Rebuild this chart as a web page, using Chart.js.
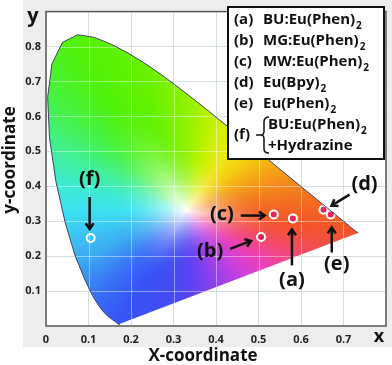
<!DOCTYPE html>
<html><head><meta charset="utf-8">
<script src="https://cdn.jsdelivr.net/npm/chart.js@4.4.1/dist/chart.umd.min.js"></script>
<style>html,body{margin:0;padding:0;background:#fff}#wrap{width:392px;height:365px;position:relative}</style>
</head><body><div id="wrap"><canvas id="c" width="392" height="365"></canvas></div>
<script>
// ---- data ----
const sampleTags  = ['(a)', '(b)', '(c)', '(d)', '(e)', '(f)'];
const sampleNames = ['BU:Eu(Phen)', 'MG:Eu(Phen)', 'MW:Eu(Phen)', 'Eu(Bpy)', 'Eu(Phen)', 'BU:Eu(Phen)'];
const sampleX = [0.581, 0.506, 0.536, 0.653, 0.670, 0.105];
const sampleY = [0.308, 0.255, 0.319, 0.333, 0.319, 0.252];
// CIE 1931 spectral locus (380-700 nm)
const locusX = [0.1741,0.1740,0.1738,0.1736,0.1733,0.1730,0.1726,0.1721,0.1714,0.1703,0.1689,0.1669,0.1644,0.1611,0.1566,0.1510,0.1440,0.1355,0.1241,0.1096,0.0913,0.0687,0.0454,0.0235,0.0082,0.0039,0.0139,0.0389,0.0743,0.1142,0.1547,0.1929,0.2296,0.2658,0.3016,0.3373,0.3731,0.4087,0.4441,0.4788,0.5125,0.5448,0.5752,0.6029,0.6270,0.6482,0.6658,0.6801,0.6915,0.7006,0.7079,0.7140,0.7190,0.7230,0.7260,0.7283,0.7300,0.7311,0.7320,0.7327,0.7334,0.7344,0.7347];
const locusY = [0.0050,0.0050,0.0049,0.0049,0.0048,0.0048,0.0048,0.0048,0.0051,0.0058,0.0069,0.0086,0.0109,0.0138,0.0177,0.0227,0.0297,0.0399,0.0578,0.0868,0.1327,0.2007,0.2950,0.4127,0.5384,0.6548,0.7502,0.8120,0.8338,0.8262,0.8059,0.7816,0.7543,0.7243,0.6923,0.6589,0.6245,0.5896,0.5547,0.5202,0.4866,0.4544,0.4242,0.3965,0.3725,0.3514,0.3340,0.3197,0.3083,0.2993,0.2920,0.2859,0.2809,0.2770,0.2740,0.2717,0.2700,0.2689,0.2680,0.2673,0.2666,0.2656,0.2653];
const xTicks = [0, 0.1, 0.2, 0.3, 0.4, 0.5, 0.6, 0.7];
const yTicks = [0.1, 0.2, 0.3, 0.4, 0.5, 0.6, 0.7, 0.8];

// ---- styling / layout helpers ----
const whitePt = [0.33, 0.33];
const hueStops = [ // angle(deg) around white point -> colour
  [-180,[60,226,242]],[-150,[60,170,242]],[-130,[56,110,245]],[-116,[54,84,246]],[-97,[70,74,242]],
  [-85,[98,66,240]],[-70,[150,64,236]],[-55,[200,64,222]],[-40,[236,64,182]],[-28,[242,72,128]],
  [-17,[242,80,72]],[-8,[242,86,40]],[0,[243,98,36]],[15,[243,130,30]],[30,[245,164,22]],[45,[245,204,16]],
  [60,[238,232,24]],[75,[198,242,0]],[88,[150,242,0]],[105,[100,242,0]],[120,[80,242,10]],[135,[70,242,70]],
  [150,[64,240,150]],[165,[62,234,210]],[180,[60,226,242]]
];
const labelOffsets = [[-1,62],[-51,14],[-52,0],[41,-25],[6,50],[-1,-59]];
const arrowOffsets = [[[-1,47],[-1,11]],[[-31,12],[-10,4]],[[-33,1],[-9,1]],[[26,-15],[8,-4]],[[1,38],[1,13]],[[-1,-41],[-1,-9]]];

function hueAt(deg){
  for(let i=0;i<hueStops.length-1;i++){
    const a=hueStops[i], b=hueStops[i+1];
    if(deg>=a[0] && deg<=b[0]){
      const t=(deg-a[0])/(b[0]-a[0]);
      return [0,1,2].map(k=>a[1][k]+(b[1][k]-a[1][k])*t);
    }
  }
  return hueStops[0][1];
}
function locusPath(ctx,xs,ys){
  ctx.beginPath();
  for(let s=0;s<locusX.length;s++){
    const X=xs.getPixelForValue(locusX[s]), Y=ys.getPixelForValue(locusY[s]);
    if(s===0)ctx.moveTo(X,Y); else ctx.lineTo(X,Y);
  }
  ctx.closePath();
}

const gamutPlugin = {
  id:'gamut',
  beforeDraw(chart){
    const ctx=chart.ctx;
    ctx.save();
    ctx.fillStyle='#ededed';
    ctx.fillRect(23,0,369,347);
    const ca=chart.chartArea;
    ctx.fillStyle='#ffffff';
    ctx.fillRect(ca.left,ca.top,ca.right-ca.left,ca.bottom-ca.top);
    ctx.restore();
  },
  beforeDatasetsDraw(chart){
    const ctx=chart.ctx, ca=chart.chartArea;
    const xs=chart.scales.x, ys=chart.scales.y;
    const w=Math.ceil(ca.right-ca.left), h=Math.ceil(ca.bottom-ca.top);
    const px=locusX.concat([locusX[0]]), py=locusY.concat([locusY[0]]);
    const N=1440, edge=new Float32Array(N);
    for(let k=0;k<N;k++){
      const th=k/N*2*Math.PI-Math.PI, dx=Math.cos(th), dy=Math.sin(th);
      let best=1e9;
      for(let s=0;s<px.length-1;s++){
        const ax=px[s]-whitePt[0], ay=py[s]-whitePt[1];
        const ex=px[s+1]-px[s], ey=py[s+1]-py[s];
        const den=dx*ey-dy*ex;
        if(Math.abs(den)<1e-12) continue;
        const t=(ax*ey-ay*ex)/den, u=(ax*dy-ay*dx)/den;
        if(t>0 && u>=-1e-9 && u<=1+1e-9 && t<best) best=t;
      }
      edge[k]=best;
    }
    const off=document.createElement('canvas'); off.width=w; off.height=h;
    const octx=off.getContext('2d'); const img=octx.createImageData(w,h); const d=img.data;
    for(let j=0;j<h;j++){
      const yv=ys.getValueForPixel(ca.top+j+0.5);
      for(let i=0;i<w;i++){
        const xv=xs.getValueForPixel(ca.left+i+0.5);
        const dx=xv-whitePt[0], dy=yv-whitePt[1];
        const th=Math.atan2(dy,dx);
        let k=Math.floor((th+Math.PI)/(2*Math.PI)*N); if(k>=N)k=N-1; if(k<0)k=0;
        const r=Math.sqrt(dx*dx+dy*dy)/edge[k];
        let f=Math.min(1,r/0.6); f=1-(1-f)*(1-f);
        const c=hueAt(th*180/Math.PI);
        const o=(j*w+i)*4;
        d[o]=255+(c[0]-255)*f; d[o+1]=255+(c[1]-255)*f; d[o+2]=255+(c[2]-255)*f; d[o+3]=255;
      }
    }
    octx.putImageData(img,0,0);
    ctx.save();
    locusPath(ctx,xs,ys); ctx.clip();
    ctx.drawImage(off,ca.left,ca.top);
    // grid lines showing through the colour field
    ctx.strokeStyle='rgba(255,255,255,0.42)'; ctx.lineWidth=1;
    ctx.beginPath();
    xs.ticks.forEach(t=>{const X=Math.round(xs.getPixelForValue(t.value))+0.5; ctx.moveTo(X,ca.top); ctx.lineTo(X,ca.bottom);});
    ys.ticks.forEach(t=>{const Y=Math.round(ys.getPixelForValue(t.value))+0.5; ctx.moveTo(ca.left,Y); ctx.lineTo(ca.right,Y);});
    ctx.stroke();
    ctx.restore();
  },
  afterDatasetsDraw(chart){
    const ctx=chart.ctx, ca=chart.chartArea;
    ctx.save();
    ctx.strokeStyle='#555'; ctx.lineWidth=1.5;
    ctx.strokeRect(ca.left,ca.top,ca.right-ca.left,ca.bottom-ca.top);
    // legend box
    ctx.fillStyle='#fff'; ctx.fillRect(228,7,156,152);
    ctx.strokeStyle='#111'; ctx.lineWidth=2; ctx.strokeRect(228,7,156,152);
    ctx.fillStyle='#111'; ctx.textBaseline='middle'; ctx.textAlign='left';
    const mainF='bold 15px "Open Sans"', subF='bold 10px "Open Sans"';
    function sub(t,s,x,y){
      ctx.font=mainF; ctx.fillText(t,x,y);
      const wd=ctx.measureText(t).width;
      ctx.font=subF; ctx.fillText(s,x+wd+1,y+6);
    }
    const rows=[20,41,62,83,104];
    for(let i=0;i<5;i++){
      ctx.font=mainF; ctx.fillText(sampleTags[i],234,rows[i]);
      sub(sampleNames[i],'2',263,rows[i]);
    }
    ctx.font=mainF; ctx.fillText(sampleTags[5],234,135);
    ctx.strokeStyle='#111'; ctx.lineWidth=1.5;
    ctx.beginPath(); ctx.moveTo(256,135); ctx.lineTo(261,135); ctx.stroke();
    ctx.beginPath(); ctx.moveTo(269,117); ctx.quadraticCurveTo(264,117,264,122); ctx.lineTo(264,131);
    ctx.quadraticCurveTo(264,135,261,135); ctx.quadraticCurveTo(264,135,264,139); ctx.lineTo(264,149);
    ctx.quadraticCurveTo(264,153,269,153); ctx.stroke();
    sub(sampleNames[5],'2',268,125);
    ctx.font=mainF; ctx.fillText('+Hydrazine',268,146);
    // labels and arrows
    const meta=chart.getDatasetMeta(1);
    ctx.font='bold 20px "Open Sans"'; ctx.textAlign='center'; ctx.fillStyle='#111';
    ctx.strokeStyle='#111'; ctx.lineWidth=2.5; ctx.lineJoin='miter'; ctx.lineCap='butt';
    meta.data.forEach((pt,i)=>{
      const lo=labelOffsets[i];
      ctx.fillText(sampleTags[i],pt.x+lo[0],pt.y+lo[1]);
      const a=arrowOffsets[i];
      const x1=pt.x+a[0][0], y1=pt.y+a[0][1], x2=pt.x+a[1][0], y2=pt.y+a[1][1];
      ctx.beginPath(); ctx.moveTo(x1,y1); ctx.lineTo(x2,y2); ctx.stroke();
      const ang=Math.atan2(y2-y1,x2-x1), L=7, sp=0.6;
      ctx.beginPath();
      ctx.moveTo(x2-L*Math.cos(ang-sp),y2-L*Math.sin(ang-sp));
      ctx.lineTo(x2,y2);
      ctx.lineTo(x2-L*Math.cos(ang+sp),y2-L*Math.sin(ang+sp));
      ctx.stroke();
    });
    ctx.fillStyle='#111'; ctx.textAlign='center'; ctx.textBaseline='middle';
    ctx.font='bold 20px "Open Sans"'; ctx.fillText('y',33,16);
    ctx.font='bold 18px "Open Sans"'; ctx.fillText('x',379,337);
    ctx.font='bold 17px "Open Sans"'; ctx.fillText('X-coordinate',203,356);
    ctx.save(); ctx.translate(10,160); ctx.rotate(-Math.PI/2); ctx.fillText('y-coordinate',0,0); ctx.restore();
    ctx.restore();
  }
};

const locusData = locusX.map((x,i)=>({x:x,y:locusY[i]})).concat([{x:locusX[0],y:locusY[0]}]);
const sampleData = sampleX.map((x,i)=>({x:x,y:sampleY[i]}));
const tickFont={family:'"Open Sans"',size:11,weight:'bold'};
const gridCol='rgba(205,216,222,0.85)';

new Chart(document.getElementById('c'),{
  type:'scatter',
  data:{datasets:[
    {type:'line',data:locusData,showLine:true,borderColor:'#3c4660',borderWidth:1,pointRadius:0,tension:0,fill:false,
     segment:{borderColor:c=>c.p1DataIndex===locusData.length-1?'rgba(255,255,255,0.9)':'#3c4660'}},
    {data:sampleData,pointRadius:4,pointBorderWidth:2,pointBorderColor:'#ffffff',
     pointBackgroundColor:sampleX.map((v,i)=>i===5?'rgba(0,0,0,0)':'#e8245a')}
  ]},
  options:{
    responsive:false,devicePixelRatio:1,animation:false,
    layout:{padding:{top:4,right:5,left:0,bottom:0}},
    plugins:{legend:{display:false},tooltip:{enabled:false}},
    scales:{
      x:{type:'linear',min:0,max:0.8,
        afterFit:s=>{s.height=39;},
        afterBuildTicks:s=>{s.ticks=xTicks.map(v=>({value:v}));},
        grid:{color:gridCol,lineWidth:1,drawTicks:false},
        border:{display:false},
        ticks:{padding:7,color:'#222',font:tickFont,maxRotation:0,autoSkip:false,
          callback:v=>v===0?'0':v.toFixed(1)}},
      y:{type:'linear',min:0,max:0.9,
        afterFit:s=>{s.width=46;},
        afterBuildTicks:s=>{s.ticks=yTicks.map(v=>({value:v}));},
        grid:{color:gridCol,lineWidth:1,drawTicks:false},
        border:{display:false},
        ticks:{padding:5,color:'#222',font:tickFont,autoSkip:false,callback:v=>v.toFixed(1)}}
    }
  },
  plugins:[gamutPlugin]
});
</script></body></html>
